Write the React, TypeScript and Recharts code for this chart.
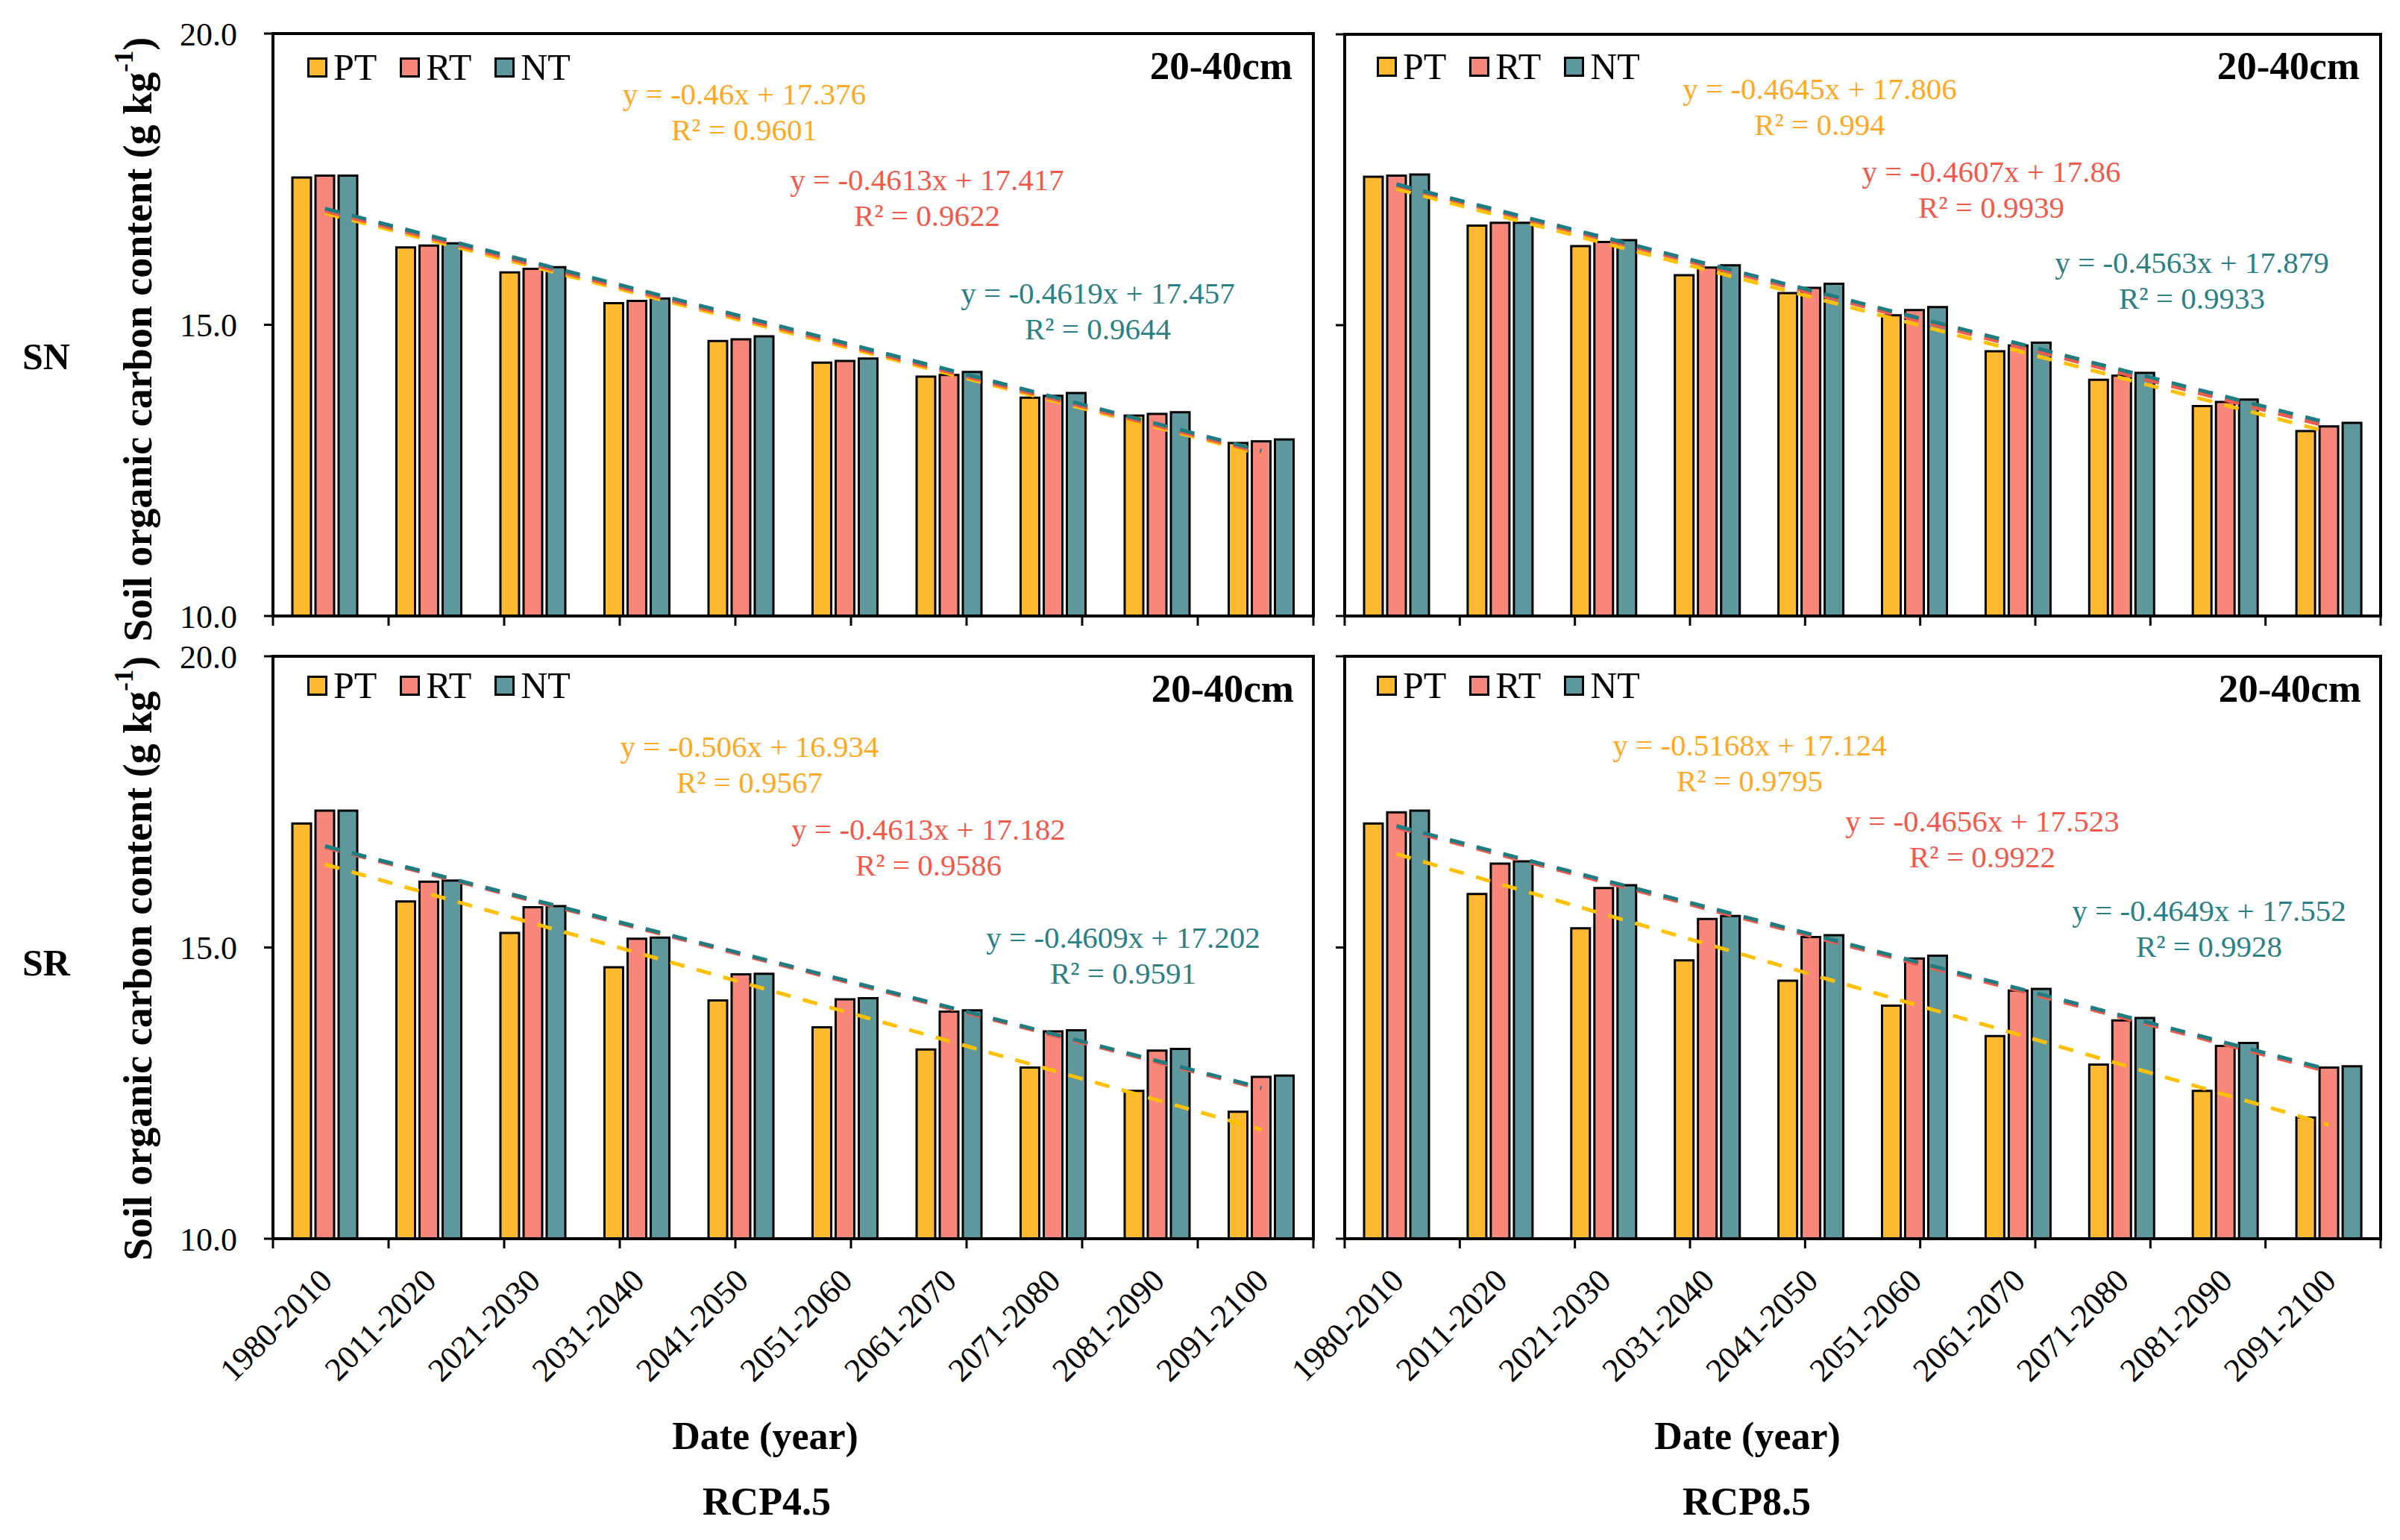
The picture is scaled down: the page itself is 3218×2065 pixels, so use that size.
import React from 'react';
import { BarChart, Bar, XAxis, YAxis, ReferenceLine, ReferenceArea, Legend } from 'recharts';

const FONT = "'Liberation Serif', 'Times New Roman', Times, serif";

// ---------- data ----------
const categories = [
  '1980-2010', '2011-2020', '2021-2030', '2031-2040', '2041-2050',
  '2051-2060', '2061-2070', '2071-2080', '2081-2090', '2091-2100',
];
const yTicks = [10, 15, 20];
const boundaryTicks = [0, 1, 2, 3, 4, 5, 6, 7, 8, 9, 10];
const seriesNames = ['PT', 'RT', 'NT'];

// SN, RCP4.5
const snRcp45PT = [17.53, 16.33, 15.9, 15.37, 14.72, 14.35, 14.11, 13.75, 13.44, 12.97];
const snRcp45RT = [17.56, 16.36, 15.96, 15.41, 14.75, 14.38, 14.14, 13.78, 13.47, 13.0];
const snRcp45NT = [17.56, 16.4, 15.99, 15.45, 14.8, 14.42, 14.19, 13.83, 13.5, 13.03];
const snRcp45Slope = [-0.46, -0.4613, -0.4619];
const snRcp45Intercept = [17.376, 17.417, 17.457];
const snRcp45Eq = ['y = -0.46x + 17.376', 'y = -0.4613x + 17.417', 'y = -0.4619x + 17.457'];
const snRcp45R2 = ['R\u00B2 = 0.9601', 'R\u00B2 = 0.9622', 'R\u00B2 = 0.9644'];

// SN, RCP8.5
const snRcp85PT = [17.55, 16.71, 16.36, 15.86, 15.55, 15.17, 14.55, 14.06, 13.61, 13.18];
const snRcp85RT = [17.57, 16.76, 16.43, 15.99, 15.64, 15.26, 14.65, 14.13, 13.68, 13.26];
const snRcp85NT = [17.59, 16.76, 16.46, 16.03, 15.71, 15.31, 14.7, 14.18, 13.72, 13.32];
const snRcp85Slope = [-0.4645, -0.4607, -0.4563];
const snRcp85Intercept = [17.806, 17.86, 17.879];
const snRcp85Eq = ['y = -0.4645x + 17.806', 'y = -0.4607x + 17.86', 'y = -0.4563x + 17.879'];
const snRcp85R2 = ['R\u00B2 = 0.994', 'R\u00B2 = 0.9939', 'R\u00B2 = 0.9933'];

// SR, RCP4.5
const srRcp45PT = [17.13, 15.79, 15.25, 14.66, 14.09, 13.63, 13.25, 12.94, 12.54, 12.18];
const srRcp45RT = [17.35, 16.13, 15.69, 15.15, 14.54, 14.11, 13.9, 13.56, 13.23, 12.78];
const srRcp45NT = [17.35, 16.15, 15.71, 15.17, 14.55, 14.13, 13.92, 13.58, 13.26, 12.8];
const srRcp45Slope = [-0.506, -0.4613, -0.4609];
const srRcp45Intercept = [16.934, 17.182, 17.202];
const srRcp45Eq = ['y = -0.506x + 16.934', 'y = -0.4613x + 17.182', 'y = -0.4609x + 17.202'];
const srRcp45R2 = ['R\u00B2 = 0.9567', 'R\u00B2 = 0.9586', 'R\u00B2 = 0.9591'];

// SR, RCP8.5
const srRcp85PT = [17.13, 15.92, 15.33, 14.78, 14.43, 14.0, 13.48, 12.99, 12.54, 12.08];
const srRcp85RT = [17.32, 16.44, 16.02, 15.49, 15.18, 14.81, 14.26, 13.75, 13.31, 12.94];
const srRcp85NT = [17.35, 16.48, 16.07, 15.54, 15.21, 14.86, 14.29, 13.79, 13.36, 12.96];
const srRcp85Slope = [-0.5168, -0.4656, -0.4649];
const srRcp85Intercept = [17.124, 17.523, 17.552];
const srRcp85Eq = ['y = -0.5168x + 17.124', 'y = -0.4656x + 17.523', 'y = -0.4649x + 17.552'];
const srRcp85R2 = ['R\u00B2 = 0.9795', 'R\u00B2 = 0.9922', 'R\u00B2 = 0.9928'];

// ---------- styles ----------
const barColors = ['#FDBA30', '#F7877A', '#5E989D'];
const trendColors = ['#FFC000', '#EE5A4C', '#1F7D82'];
const eqColors = ['#FFA826', '#F2594B', '#2B8084'];

const XTick = (props: any) => {
  const { x, y, payload } = props;
  const tx = x + 12;
  const ty = y + 59;
  return (
    <text
      x={tx}
      y={ty}
      transform={`rotate(-45, ${tx}, ${ty})`}
      textAnchor="end"
      fontSize={44}
      fontFamily={FONT}
      fill="#000"
    >
      {payload.value}
    </text>
  );
};

const LegendContent = (props: any) => {
  const raw = (props && props.payload) || [];
  const payload = [...raw].sort(
    (a: any, b: any) => seriesNames.indexOf(a.value) - seriesNames.indexOf(b.value)
  );
  return (
    <div style={{ display: 'flex', alignItems: 'center', fontFamily: FONT, fontSize: 50, lineHeight: '50px', whiteSpace: 'nowrap' }}>
      {payload.map((p: any, i: number) => (
        <div key={i} style={{ display: 'flex', alignItems: 'center', marginRight: 31 }}>
          <div style={{ width: 21, height: 21, background: p.color, border: '3px solid #000', marginRight: 8 }} />
          <span style={{ color: '#000' }}>{p.value}</span>
        </div>
      ))}
    </div>
  );
};

type PanelProps = {
  left: number; top: number; width: number; height: number;
  margin: { top: number; right: number; bottom: number; left: number };
  pt: number[]; rt: number[]; nt: number[];
  slopes: number[]; intercepts: number[];
  showY: boolean; showX: boolean;
  legendLeft: number; legendTop: number;
};

function Panel(p: PanelProps) {
  const data = categories.map((c, i) => ({ cat: c, PT: p.pt[i], RT: p.rt[i], NT: p.nt[i] }));
  const n = categories.length;
  return (
    <div style={{ position: 'absolute', left: p.left, top: p.top, width: p.width, height: p.height }}>
      <BarChart width={p.width} height={p.height} data={data} margin={p.margin} barSize={25} barGap={6}>
        <XAxis
          xAxisId="n"
          type="number"
          domain={[0, n]}
          ticks={boundaryTicks}
          interval={0}
          height={1}
          axisLine={false}
          tickLine={{ stroke: '#000', strokeWidth: 3 }}
          tickSize={12}
          tickFormatter={() => ''}
          allowDataOverflow
        />
        <XAxis
          xAxisId="c"
          dataKey="cat"
          height={1}
          interval={0}
          axisLine={{ stroke: '#000', strokeWidth: 4 }}
          tickLine={false}
          tickSize={0}
          tickMargin={0}
          tick={p.showX ? (tp: any) => <XTick {...tp} /> : false}
        />
        <YAxis
          domain={[10, 20]}
          ticks={yTicks}
          interval={0}
          width={1}
          axisLine={{ stroke: '#000', strokeWidth: 4 }}
          tickLine={{ stroke: '#000', strokeWidth: 3 }}
          tickSize={12}
          tickMargin={36}
          tick={{ fontSize: 44, fill: '#000', fontFamily: FONT }}
          tickFormatter={(v: number) => (p.showY ? v.toFixed(1) : '')}
          allowDataOverflow
        />
        <Legend
          layout="horizontal"
          verticalAlign="middle"
          align="center"
          wrapperStyle={{ left: p.legendLeft, top: p.legendTop, width: 'auto', height: 'auto' }}
          content={(lp: any) => <LegendContent {...lp} />}
        />
        <Bar xAxisId="c" dataKey="PT" name={seriesNames[0]} fill={barColors[0]} stroke="#000" strokeWidth={3} isAnimationActive={false} />
        <Bar xAxisId="c" dataKey="RT" name={seriesNames[1]} fill={barColors[1]} stroke="#000" strokeWidth={3} isAnimationActive={false} />
        <Bar xAxisId="c" dataKey="NT" name={seriesNames[2]} fill={barColors[2]} stroke="#000" strokeWidth={3} isAnimationActive={false} />
        {p.slopes.map((a, k) => (
          <ReferenceLine
            key={k}
            xAxisId="c"
            segment={[
              { x: categories[0], y: a * 1 + p.intercepts[k] },
              { x: categories[n - 1], y: a * n + p.intercepts[k] },
            ]}
            stroke={trendColors[k]}
            strokeWidth={5}
            strokeDasharray="20 17"
            ifOverflow="visible"
          />
        ))}
        <ReferenceArea xAxisId="c" y1={10} y2={20} fill="none" stroke="#000" strokeWidth={4} ifOverflow="visible" />
      </BarChart>
    </div>
  );
}

const EqBlock = ({ eq, r2, color, x, y }: { eq: string; r2: string; color: string; x: number; y: number }) => (
  <g>
    <text x={x} y={y} textAnchor="middle" dominantBaseline="central" fontSize={41} fontFamily={FONT} fill={color}>{eq}</text>
    <text x={x} y={y + 48} textAnchor="middle" dominantBaseline="central" fontSize={41} fontFamily={FONT} fill={color}>{r2}</text>
  </g>
);

export default function App() {
  const mL = { top: 45, right: 29, bottom: 32, left: 365 };
  const mR = { top: 46, right: 26, bottom: 32, left: 82 };
  const mBL = { top: 40, right: 29, bottom: 257, left: 365 };
  const mBR = { top: 40, right: 26, bottom: 257, left: 82 };

  const eqTL = [[998, 126], [1243, 241], [1472, 393]];
  const eqTR = [[2440, 119], [2670, 230], [2939, 352]];
  const eqBL = [[1005, 1001], [1245, 1112], [1506, 1257]];
  const eqBR = [[2346, 999], [2658, 1101], [2962, 1221]];

  const yLabel = (cx: number, cy: number) => (
    <text
      transform={`translate(${cx},${cy}) rotate(-90)`}
      textAnchor="middle"
      dominantBaseline="central"
      fontSize={54}
      fontWeight="bold"
      fontFamily={FONT}
      fill="#000"
    >
      Soil organic carbon content (g kg<tspan dy={-19} fontSize={35}>-1</tspan><tspan dy={19}>)</tspan>
    </text>
  );

  return (
    <div style={{ position: 'absolute', left: 0, top: 0, width: 3218, height: 2065, background: '#fff', overflow: 'hidden' }}>
      <Panel left={0} top={0} width={1790} height={860} margin={mL}
        pt={snRcp45PT} rt={snRcp45RT} nt={snRcp45NT} slopes={snRcp45Slope} intercepts={snRcp45Intercept}
        showY showX={false} legendLeft={412} legendTop={65} />
      <Panel left={1720} top={0} width={1498} height={860} margin={mR}
        pt={snRcp85PT} rt={snRcp85RT} nt={snRcp85NT} slopes={snRcp85Slope} intercepts={snRcp85Intercept}
        showY={false} showX={false} legendLeft={126} legendTop={64} />
      <Panel left={0} top={840} width={1790} height={1080} margin={mBL}
        pt={srRcp45PT} rt={srRcp45RT} nt={srRcp45NT} slopes={srRcp45Slope} intercepts={srRcp45Intercept}
        showY showX legendLeft={412} legendTop={54} />
      <Panel left={1720} top={840} width={1498} height={1080} margin={mBR}
        pt={srRcp85PT} rt={srRcp85RT} nt={srRcp85NT} slopes={srRcp85Slope} intercepts={srRcp85Intercept}
        showY={false} showX legendLeft={126} legendTop={54} />

      <svg width={3218} height={2065} style={{ position: 'absolute', left: 0, top: 0, pointerEvents: 'none' }}>
        <text x={62} y={478} textAnchor="middle" dominantBaseline="central" fontSize={50} fontWeight="bold" fontFamily={FONT}>SN</text>
        <text x={62} y={1291} textAnchor="middle" dominantBaseline="central" fontSize={50} fontWeight="bold" fontFamily={FONT}>SR</text>
        {yLabel(185, 455)}
        {yLabel(185, 1285)}

        <text x={1733} y={88} textAnchor="end" dominantBaseline="central" fontSize={53} fontWeight="bold" fontFamily={FONT}>20-40cm</text>
        <text x={3164} y={88} textAnchor="end" dominantBaseline="central" fontSize={53} fontWeight="bold" fontFamily={FONT}>20-40cm</text>
        <text x={1735} y={923} textAnchor="end" dominantBaseline="central" fontSize={53} fontWeight="bold" fontFamily={FONT}>20-40cm</text>
        <text x={3166} y={923} textAnchor="end" dominantBaseline="central" fontSize={53} fontWeight="bold" fontFamily={FONT}>20-40cm</text>

        {eqTL.map((c, k) => <EqBlock key={'tl' + k} eq={snRcp45Eq[k]} r2={snRcp45R2[k]} color={eqColors[k]} x={c[0]} y={c[1]} />)}
        {eqTR.map((c, k) => <EqBlock key={'tr' + k} eq={snRcp85Eq[k]} r2={snRcp85R2[k]} color={eqColors[k]} x={c[0]} y={c[1]} />)}
        {eqBL.map((c, k) => <EqBlock key={'bl' + k} eq={srRcp45Eq[k]} r2={srRcp45R2[k]} color={eqColors[k]} x={c[0]} y={c[1]} />)}
        {eqBR.map((c, k) => <EqBlock key={'br' + k} eq={srRcp85Eq[k]} r2={srRcp85R2[k]} color={eqColors[k]} x={c[0]} y={c[1]} />)}

        <text x={1026} y={1925} textAnchor="middle" dominantBaseline="central" fontSize={52} fontWeight="bold" fontFamily={FONT}>Date (year)</text>
        <text x={2343} y={1925} textAnchor="middle" dominantBaseline="central" fontSize={52} fontWeight="bold" fontFamily={FONT}>Date (year)</text>
        <text x={1028} y={2013} textAnchor="middle" dominantBaseline="central" fontSize={52} fontWeight="bold" fontFamily={FONT}>RCP4.5</text>
        <text x={2342} y={2013} textAnchor="middle" dominantBaseline="central" fontSize={52} fontWeight="bold" fontFamily={FONT}>RCP8.5</text>
      </svg>
    </div>
  );
}
